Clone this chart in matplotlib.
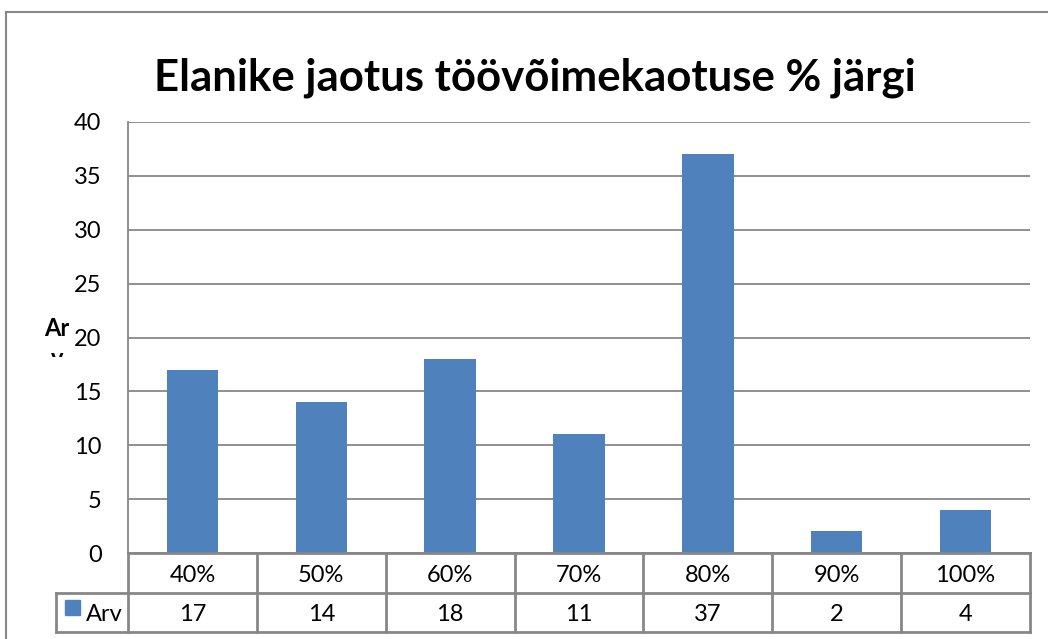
import matplotlib
matplotlib.use("Agg")
import matplotlib.pyplot as plt
from matplotlib.transforms import blended_transform_factory
from matplotlib.patches import Rectangle
from matplotlib.lines import Line2D

categories = ["40%", "50%", "60%", "70%", "80%", "90%", "100%"]
values = [17, 14, 18, 11, 37, 2, 4]
series_name = "Arv"
title = "Elanike jaotus töövõimekaotuse % järgi"
yticks = [0, 5, 10, 15, 20, 25, 30, 35, 40]

W, H = 1048, 639
FONT = "Lato"
BLUE = "#4F81BD"
GRAY = "#878787"
FS = 17

fig = plt.figure(figsize=(W / 100, H / 100), dpi=100)
fig.patch.set_facecolor("white")

def fx(px):
    return px / W

def fy(py):
    return 1 - py / H

L, R, T, B = 128, 1030, 122, 553
ax = fig.add_axes([fx(L), fy(B), fx(R) - fx(L), fy(T) - fy(B)])
x = list(range(len(categories)))
ax.bar(x, values, width=0.4, color=BLUE, zorder=3)
ax.set_xlim(-0.5, len(categories) - 0.5)
ax.set_ylim(0, 40)
ax.set_yticks(yticks)
ax.set_yticklabels([str(v) for v in yticks], fontsize=FS, family=FONT)
ax.tick_params(axis="y", length=0, pad=19)
ax.set_xticks([])
ax.grid(axis="y", color=GRAY, linewidth=1.3, zorder=0)
for s in ["top", "right", "bottom"]:
    ax.spines[s].set_visible(False)
ax.spines["left"].set_color(GRAY)
ax.spines["left"].set_linewidth(1.3)

# Title
fig.text(fx(535), fy(78), title, ha="center", va="center",
         fontsize=31.5, fontweight="bold", family=FONT)

# Clipped y-axis label "Arv" (wrapped, second line cut)
fig.text(fx(57), fy(329), "Ar", ha="center", va="center", fontsize=FS,
         fontweight="bold", family=FONT)
v = fig.text(fx(57), fy(359), "v", ha="center", va="center", fontsize=FS,
             fontweight="bold", family=FONT)
clip = Rectangle((0, fy(357)), 1, 1, transform=fig.transFigure, visible=False)
fig.add_artist(clip)
v.set_clip_path(clip)

# Data table
tr = blended_transform_factory(ax.transData, fig.transFigure)
r1, r2, r3 = 553, 593, 632
lw = 2
n = len(categories)
for yy in (r1, r2, r3):
    fig.add_artist(Line2D([-0.5, n - 0.5], [fy(yy), fy(yy)], transform=tr,
                          color=GRAY, lw=lw))
# legend cell
fig.add_artist(Line2D([fx(56), fx(L)], [fy(r2), fy(r2)], color=GRAY, lw=lw))
fig.add_artist(Line2D([fx(56), fx(L)], [fy(r3), fy(r3)], color=GRAY, lw=lw))
fig.add_artist(Line2D([fx(56), fx(56)], [fy(r2), fy(r3)], color=GRAY, lw=lw))
for i in range(n + 1):
    fig.add_artist(Line2D([i - 0.5, i - 0.5], [fy(r1), fy(r3)], transform=tr,
                          color=GRAY, lw=lw))
for i, (c, val) in enumerate(zip(categories, values)):
    fig.text(i, fy((r1 + r2) / 2 + 3), c, transform=tr, ha="center", va="center",
             fontsize=FS, family=FONT)
    fig.text(i, fy((r2 + r3) / 2 + 2), str(val), transform=tr, ha="center",
             va="center", fontsize=FS, family=FONT)
fig.add_artist(Rectangle((fx(65), fy(615)), fx(15), fy(600) - fy(615),
                         transform=fig.transFigure, color=BLUE))
fig.text(fx(86), fy((r2 + r3) / 2 + 2), series_name, ha="left", va="center",
         fontsize=FS, family=FONT)

# Outer chart frame (clipped at right/bottom)
fig.add_artist(Line2D([fx(6), fx(6)], [fy(12), 0], color=GRAY, lw=1.5))
fig.add_artist(Line2D([fx(6), 1], [fy(12), fy(12)], color=GRAY, lw=1.5))

fig.savefig("out.png", dpi=100)
